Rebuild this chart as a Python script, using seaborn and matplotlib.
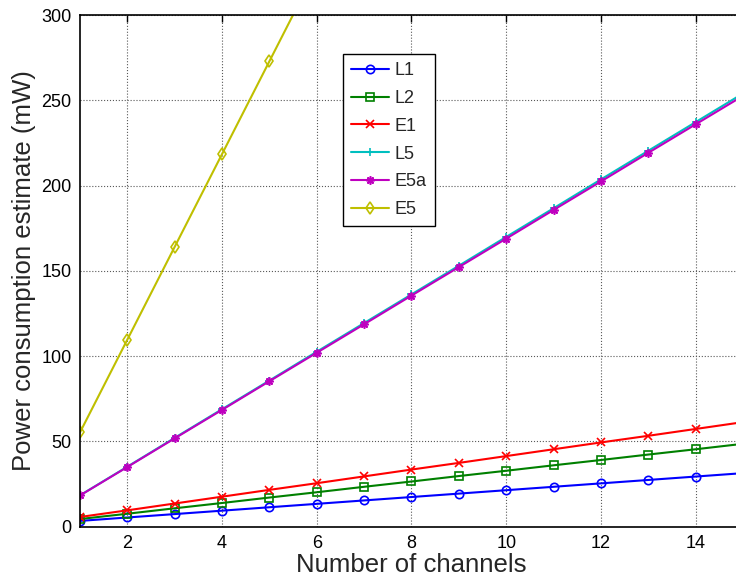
import matplotlib
matplotlib.use("Agg")
import matplotlib.pyplot as plt
import seaborn as sns
import pandas as pd

channels = list(range(1, 16))
L1 = [3.4, 5.4, 7.4, 9.4, 11.4, 13.4, 15.4, 17.4, 19.4, 21.4, 23.4, 25.4, 27.4, 29.4, 31.4]
L2 = [4.5, 7.6, 10.8, 13.9, 17.1, 20.2, 23.4, 26.5, 29.7, 32.8, 36.0, 39.1, 42.3, 45.4, 48.6]
E1 = [5.7, 9.6, 13.6, 17.6, 21.6, 25.5, 29.5, 33.5, 37.4, 41.4, 45.4, 49.4, 53.3, 57.3, 61.3]
L5 = [18.4, 35.2, 52.1, 68.9, 85.7, 102.6, 119.4, 136.2, 153.0, 169.9, 186.7, 203.6, 220.4, 237.2, 254.0]
E5a = [18.3, 35.0, 51.8, 68.5, 85.3, 102.0, 118.7, 135.5, 152.2, 168.9, 185.7, 202.4, 219.2, 235.9, 252.6]
E5 = [55.3, 109.7, 164.1, 218.5, 272.9, 327.3, 381.7, 436.1, 490.5, 544.9, 599.3, 653.7, 708.1, 762.5, 816.9]

series_names = ["L1", "L2", "E1", "L5", "E5a", "E5"]
series_values = [L1, L2, E1, L5, E5a, E5]

rows = []
for name, vals in zip(series_names, series_values):
    for c, v in zip(channels, vals):
        rows.append({"channels": c, "power": v, "series": name})
df = pd.DataFrame(rows)

colors = {"L1": (0, 0, 1), "L2": (0, 0.5, 0), "E1": (1, 0, 0),
          "L5": (0, 0.75, 0.75), "E5a": (0.75, 0, 0.75), "E5": (0.75, 0.75, 0)}
markers = {"L1": "o", "L2": "s", "E1": "x", "L5": "+", "E5a": (8, 2, 0), "E5": "d"}

sns.set_style("white")
plt.rcParams["font.family"] = ["Liberation Sans", "DejaVu Sans"]

fig = plt.figure(figsize=(7.36, 5.77), dpi=100)
ax = fig.add_axes([80 / 736, (577 - 526.7) / 577, 663 / 736, 511.7 / 577])

for name in series_names:
    sub = df[df["series"] == name]
    sns.lineplot(data=sub, x="channels", y="power", ax=ax, color=colors[name],
                 marker=markers[name], markersize=6, markerfacecolor="none",
                 markeredgecolor=colors[name], markeredgewidth=1.2,
                 linewidth=1.5, label=name)

ax.set_xlim(1, 15)
ax.set_ylim(0, 300)
ax.set_xticks([2, 4, 6, 8, 10, 12, 14])
ax.set_yticks([0, 50, 100, 150, 200, 250, 300])
ax.grid(True, linestyle=":", color="0.35", linewidth=0.8)
for s in ax.spines.values():
    s.set_visible(True)
    s.set_color("black")
    s.set_linewidth(1.2)
ax.tick_params(direction="in", top=True, right=True, length=5, width=1,
               labelsize=13, colors="black", pad=6)
ax.set_xlabel("Number of channels", fontsize=18.5, labelpad=1)
ax.set_ylabel("Power consumption estimate (mW)", fontsize=18.5, labelpad=4)

leg = ax.legend(loc="upper left", bbox_to_anchor=((343 - 80) / 663, (526.7 - 54) / 511.7),
                borderaxespad=0, fontsize=13, fancybox=False, edgecolor="black",
                framealpha=1, handlelength=2.1, labelspacing=0.6, handletextpad=0.3,
                borderpad=0.45)
leg.get_frame().set_linewidth(1.0)

fig.savefig("out.png", dpi=100)
